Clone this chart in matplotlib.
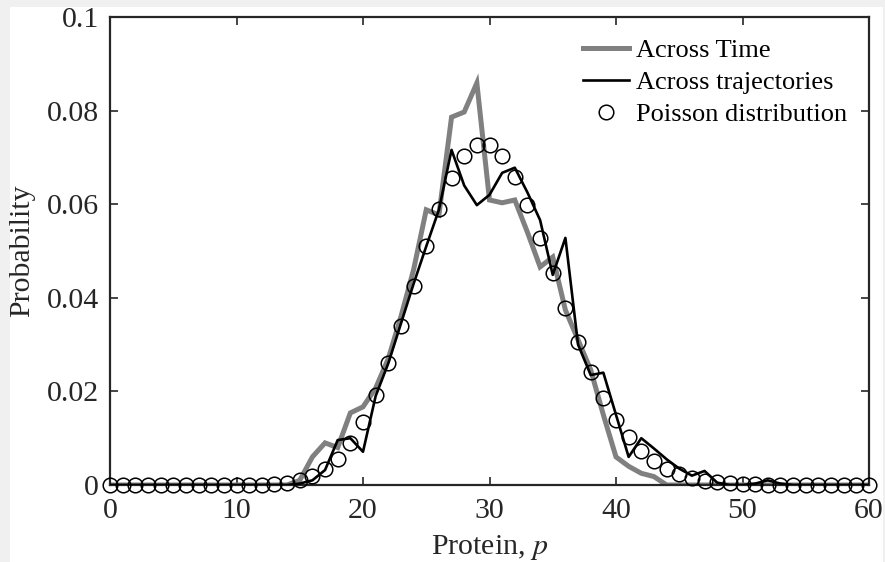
import matplotlib
matplotlib.use("Agg")
import matplotlib.pyplot as plt
from matplotlib.patches import Rectangle

plt.rcParams['font.family'] = ['Liberation Serif', 'DejaVu Serif']
plt.rcParams['mathtext.fontset'] = 'stix'

protein = list(range(61))

across_time = [0, 0, 0, 0, 0, 0, 0, 0, 0, 0,
               0, 0, 0, 0, 0, 0.001, 0.006, 0.009, 0.008, 0.0154,
               0.0167, 0.0207, 0.027, 0.036, 0.046, 0.0588, 0.0577, 0.0786, 0.0797, 0.0859,
               0.0609, 0.0603, 0.0609, 0.054, 0.0466, 0.0487, 0.0374, 0.031, 0.0246, 0.015,
               0.006, 0.004, 0.0025, 0.0018, 0, 0, 0, 0, 0, 0,
               0, 0, 0, 0, 0, 0, 0, 0, 0, 0, 0]

across_traj = [0, 0, 0, 0, 0, 0, 0, 0, 0, 0,
               0, 0, 0, 0, 0, 0.0003, 0.001, 0.0032, 0.0096, 0.0100,
               0.0071, 0.019, 0.026, 0.0345, 0.043, 0.051, 0.0588, 0.0716, 0.064, 0.0598,
               0.062, 0.0667, 0.0678, 0.0625, 0.0566, 0.0449, 0.0528, 0.030, 0.0235, 0.024,
               0.015, 0.006, 0.0100, 0.0078, 0.0055, 0.0035, 0.002, 0.003, 0.0005, 0,
               0, 0.0003, 0.001, 0.0003, 0, 0, 0, 0, 0, 0, 0]

poisson = [0, 0, 0, 0, 0, 0, 0, 0, 0, 0,
           0.00001, 0.00004, 0.0001, 0.00024, 0.00051, 0.00103, 0.00193, 0.0034, 0.00566, 0.00894,
           0.01341, 0.01916, 0.02612, 0.03408, 0.04259, 0.05111, 0.05898, 0.06553, 0.07021, 0.07263,
           0.07263, 0.07029, 0.06589, 0.0599, 0.05286, 0.04531, 0.03775, 0.03061, 0.02417, 0.01859,
           0.01394, 0.0102, 0.00729, 0.00508, 0.00347, 0.00231, 0.00151, 0.00096, 0.0006, 0.00037,
           0.00022, 0.00013, 0.00008, 0.00004, 0.00002, 0.00001, 0, 0, 0, 0, 0]

xticks = [0, 10, 20, 30, 40, 50, 60]
yticks = [0, 0.02, 0.04, 0.06, 0.08, 0.1]
ytick_labels = ['0', '0.02', '0.04', '0.06', '0.08', '0.1']

fig = plt.figure(figsize=(8.85, 5.62), dpi=100, facecolor='#f0f0f0')
bg = Rectangle((10/885, 0), (883-10)/885, (562-7)/562,
               transform=fig.transFigure, facecolor='white',
               edgecolor='none', zorder=-10)
fig.add_artist(bg)
ax = fig.add_axes([110/885, (562-485)/562, (869-110)/885, (485-17)/562])
ax.set_zorder(5)

ax.plot(protein, across_time, color='#808080', lw=3.6, label='Across Time',
        solid_joinstyle='miter', zorder=2)
ax.plot(protein, across_traj, color='black', lw=1.9, label='Across trajectories', zorder=3)
ax.plot(protein, poisson, ls='none', marker='o', ms=10.5, mfc='none', mec='black',
        mew=1.1, label='Poisson distribution', zorder=4, clip_on=False)

ax.set_xlim(0, 60)
ax.set_ylim(0, 0.1)
ax.set_xticks(xticks)
ax.set_xticklabels([str(v) for v in xticks])
ax.set_yticks(yticks)
ax.set_yticklabels(ytick_labels)
ax.tick_params(direction='in', length=6, width=1.2, labelsize=21.5,
               top=True, right=True, colors='#262626', labelcolor='#262626')
ax.tick_params(axis='y', pad=8)
ax.tick_params(axis='x', pad=9)
for s in ax.spines.values():
    s.set_linewidth(1.6)
    s.set_color('#262626')

ax.set_xlabel('Protein, $p$', fontsize=21.5, color='#262626', labelpad=7)
ax.set_ylabel('Probability', fontsize=21.5, color='#262626', labelpad=8)

leg = ax.legend(loc='upper right', bbox_to_anchor=(0.971, 0.954), frameon=False,
                fontsize=19, handlelength=1.75, handletextpad=0.25,
                labelspacing=0.32, borderpad=0, borderaxespad=0)

fig.savefig('out.png', dpi=100, facecolor=fig.get_facecolor())
